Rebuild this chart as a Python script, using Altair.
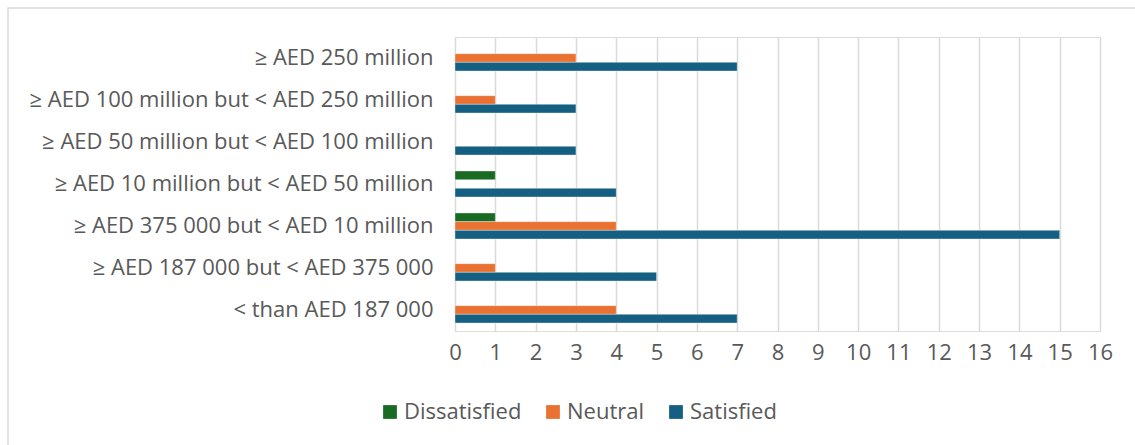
import altair as alt
import pandas as pd

categories = [
    "≥ AED 250 million",
    "≥ AED 100 million but < AED 250 million",
    "≥ AED 50 million but < AED 100 million",
    "≥ AED 10 million but < AED 50 million",
    "≥ AED 375 000 but < AED 10 million",
    "≥ AED 187 000 but < AED 375 000",
    "< than AED 187 000",
]
series = ["Dissatisfied", "Neutral", "Satisfied"]
dissatisfied = [0, 0, 0, 1, 1, 0, 0]
neutral = [3, 1, 0, 0, 4, 1, 4]
satisfied = [7, 3, 3, 4, 15, 5, 7]
colors = ["#196B24", "#E97132", "#156082"]
x_ticks = list(range(0, 17))

rows = []
for i, c in enumerate(categories):
    for s, vals in zip(series, [dissatisfied, neutral, satisfied]):
        if vals[i] > 0:
            rows.append({"category": c, "series": s, "value": vals[i]})
df = pd.DataFrame(rows)

W, H = 645, 294
PL, PT = 455, 37
FS = 22

bars = alt.Chart(df).mark_bar(stroke="#ffffff", strokeWidth=0.6, strokeOpacity=0.6).encode(
    y=alt.Y("category:N", sort=categories,
            scale=alt.Scale(paddingInner=0.38, paddingOuter=0.19),
            axis=alt.Axis(title=None, domain=False, ticks=False, grid=False,
                          labelFontSize=FS, labelColor="#595959", labelPadding=22,
                          labelFont="Open Sans", labelLimit=600)),
    x=alt.X("value:Q", scale=alt.Scale(domain=[0, 16], nice=False),
            axis=alt.Axis(title=None, values=x_ticks, domain=False, ticks=False,
                          gridColor="#d9d9d9", gridWidth=1.5, labelFlush=False,
                          labelFontSize=FS, labelColor="#595959", labelPadding=11,
                          labelFont="Open Sans")),
    yOffset=alt.YOffset("series:N", sort=series,
                        scale=alt.Scale(domain=series, paddingInner=0, paddingOuter=0)),
    color=alt.Color("series:N", sort=series,
                    scale=alt.Scale(domain=series, range=colors),
                    legend=alt.Legend(title=None, orient="none", direction="horizontal",
                                      legendX=-76, legendY=364,
                                      symbolType="square", symbolSize=190,
                                      symbolStrokeWidth=0,
                                      labelFontSize=FS, labelColor="#595959",
                                      labelFont="Open Sans", columnPadding=20,
                                      labelOffset=3)),
)

border = alt.Chart(pd.DataFrame({"a": [0]})).mark_rect(
    fill=None, stroke="#d9d9d9", strokeWidth=1.5
).encode(
    x=alt.value(8 - PL), x2=alt.value(1135 - PL + 20),
    y=alt.value(8 - PT), y2=alt.value(445 - PT + 20),
)

chart = alt.layer(border, bars).properties(
    width=W, height=H,
    autosize=alt.AutoSizeParams(type="none"),
    padding={"left": PL, "top": PT, "right": 1135 - PL - W, "bottom": 445 - PT - H},
).configure_view(stroke=None).configure(background="white")

chart.save("out.html", embed_options={"renderer": "svg", "actions": False})
